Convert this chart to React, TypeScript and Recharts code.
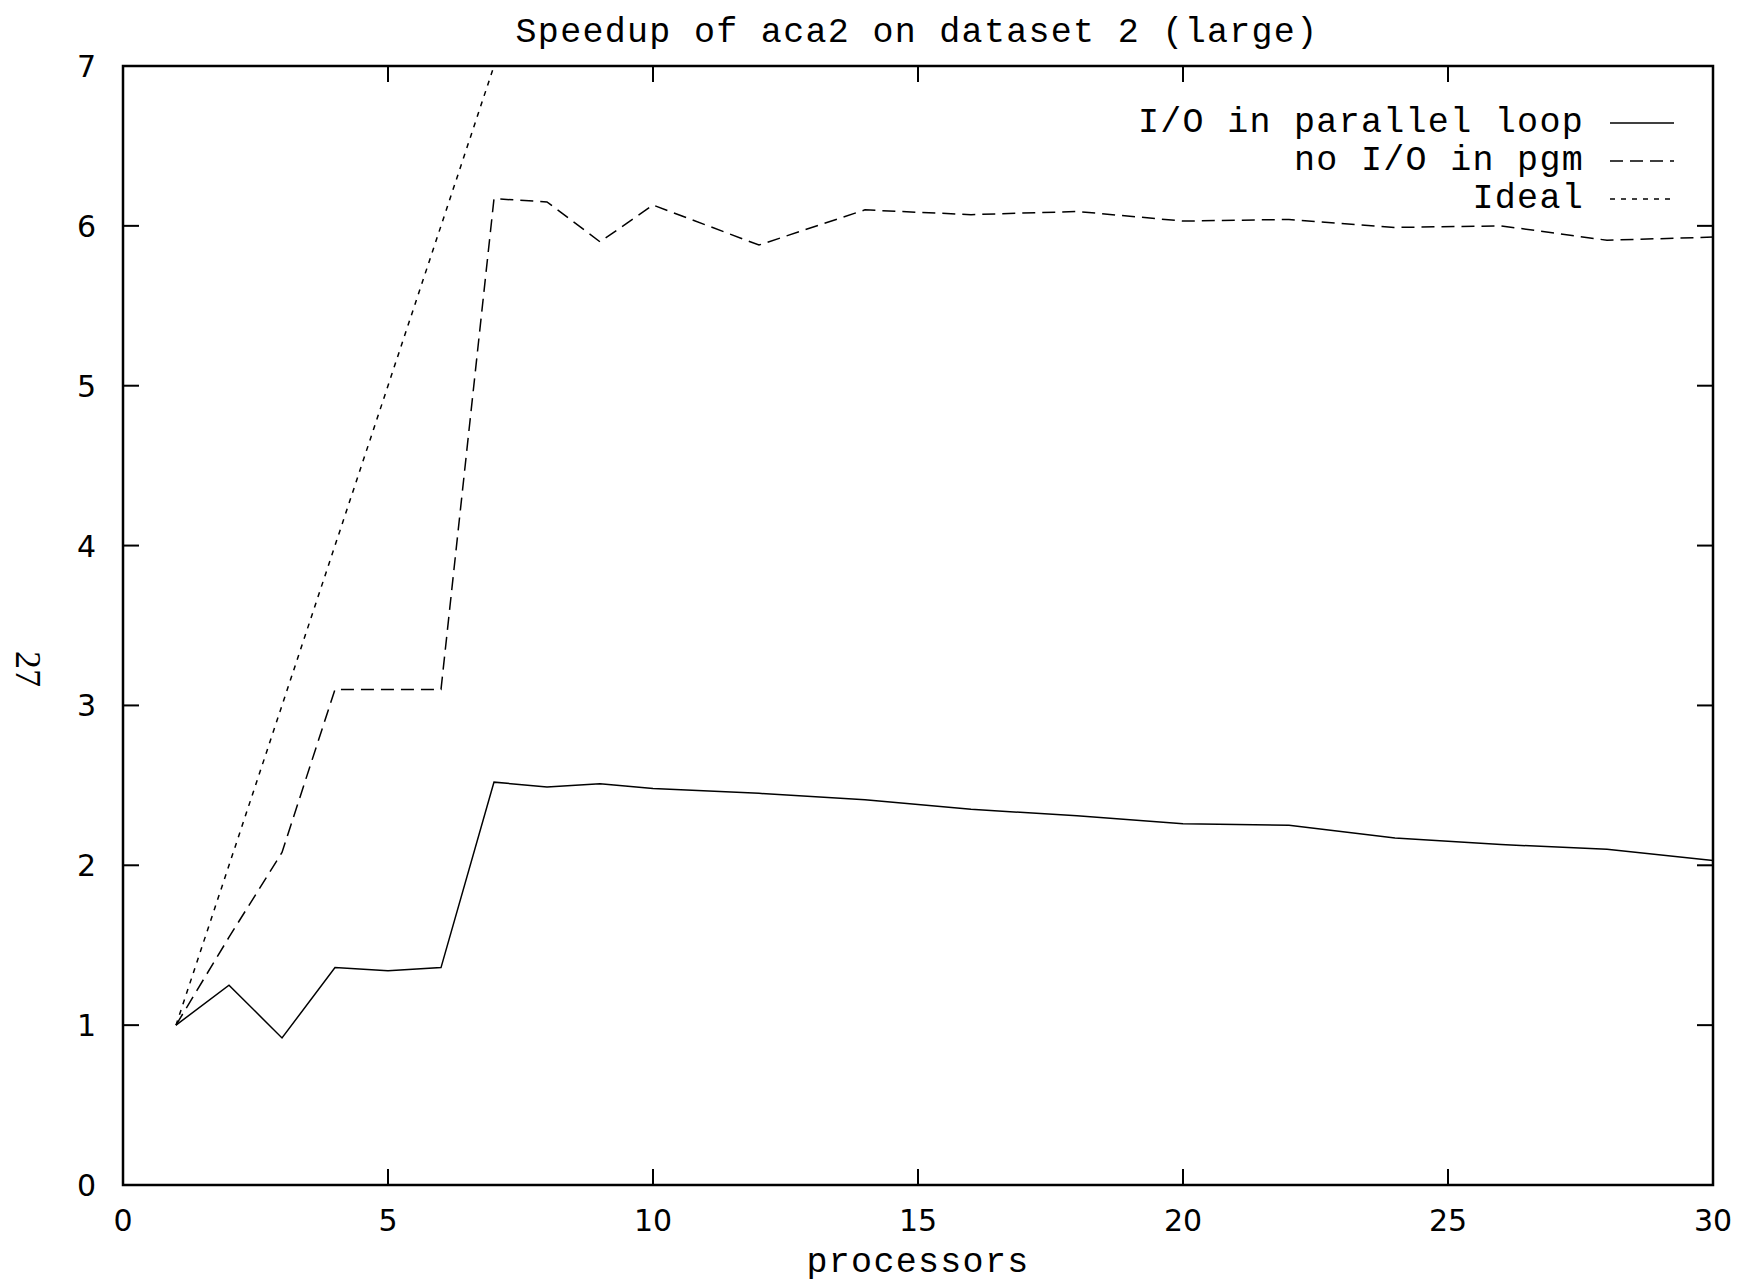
import React from 'react';
import { LineChart, Line, XAxis, YAxis, ReferenceArea, Legend, Label } from 'recharts';

const processors = [1, 2, 3, 4, 5, 6, 7, 8, 9, 10, 12, 14, 16, 18, 20, 22, 24, 26, 28, 30];
const ioParallelLoop = [1.0, 1.25, 0.92, 1.36, 1.34, 1.36, 2.52, 2.49, 2.51, 2.48, 2.45, 2.41, 2.35, 2.31, 2.26, 2.25, 2.17, 2.13, 2.10, 2.03];
const noIoInPgm = [1.0, 1.55, 2.08, 3.10, 3.10, 3.10, 6.17, 6.15, 5.90, 6.13, 5.88, 6.10, 6.07, 6.09, 6.03, 6.04, 5.99, 6.00, 5.91, 5.93];
const ideal = [1, 2, 3, 4, 5, 6, 7, null, null, null, null, null, null, null, null, null, null, null, null, null];

const xTicks = [0, 5, 10, 15, 20, 25, 30];
const yTicks = [0, 1, 2, 3, 4, 5, 6, 7];

const titleText = 'Speedup of aca2 on dataset 2 (large)';
const xLabelText = 'processors';
const yLabelText = '27';

const seriesNames = ['I/O in parallel loop', 'no I/O in pgm', 'Ideal'];

const data = processors.map((p, i) => ({
  x: p,
  io: ioParallelLoop[i],
  noio: noIoInPgm[i],
  ideal: ideal[i],
}));

const W = 1753;
const H = 1287;
const PLOT_TOP = 66;
const PLOT_RIGHT = 1713;
const PLOT_BOTTOM = 1185;
const Y_AXIS_W = 123;
const X_AXIS_H = 60;
const TICK_LEN = 16;

const MONO = "'Courier New', 'Liberation Mono', monospace";
const SANS = "'DejaVu Sans', sans-serif";
const SERIF = "'Liberation Serif', 'DejaVu Serif', serif";

const renderXTick = (props: any) => {
  const { x, y, payload } = props;
  return (
    <g>
      <line x1={x} y1={y} x2={x} y2={y - TICK_LEN} stroke="#000" strokeWidth={2} />
      <line x1={x} y1={PLOT_TOP} x2={x} y2={PLOT_TOP + TICK_LEN} stroke="#000" strokeWidth={2} />
      <text x={x} y={y + 46} textAnchor="middle" fontFamily={SANS} fontSize={30} fill="#000">
        {payload.value}
      </text>
    </g>
  );
};

const renderYTick = (props: any) => {
  const { x, y, payload } = props;
  return (
    <g>
      <line x1={x} y1={y} x2={x + TICK_LEN} y2={y} stroke="#000" strokeWidth={2} />
      <line x1={PLOT_RIGHT - TICK_LEN} y1={y} x2={PLOT_RIGHT} y2={y} stroke="#000" strokeWidth={2} />
      <text x={x - 27} y={y + 11} textAnchor="end" fontFamily={SANS} fontSize={30} fill="#000">
        {payload.value}
      </text>
    </g>
  );
};

const dashes = ['', '13 7', '5 6'];

const renderLegend = () => (
  <div style={{ width: 1674 }}>
    {seriesNames.map((name, i) => (
      <div
        key={name}
        style={{ display: 'flex', justifyContent: 'flex-end', alignItems: 'center', height: 38 }}
      >
        <span
          style={{ fontFamily: MONO, fontSize: 35, letterSpacing: 1.3, color: '#000', lineHeight: '38px', whiteSpace: 'pre' }}
        >
          {name}
        </span>
        <svg width={90} height={38} style={{ display: 'block' }}>
          <line x1={26} y1={19} x2={90} y2={19} stroke="#000" strokeWidth={1.5} strokeDasharray={dashes[i] || undefined} />
        </svg>
      </div>
    ))}
  </div>
);

export default function App() {
  return (
    <div style={{ position: 'absolute', left: 0, top: 0, width: W, height: H, background: '#fff' }}>
      <div
        style={{
          position: 'absolute',
          left: 0,
          top: 16,
          width: 1834,
          textAlign: 'center',
          fontFamily: MONO,
          fontSize: 35,
          letterSpacing: 1.3,
          lineHeight: '35px',
          color: '#000',
          whiteSpace: 'pre',
        }}
      >
        {titleText}
      </div>
      <div
        style={{
          position: 'absolute',
          left: 28,
          top: 669,
          transform: 'translate(-50%, -50%) rotate(90deg)',
          fontFamily: SERIF,
          fontSize: 36,
          lineHeight: '36px',
          color: '#000',
          whiteSpace: 'pre',
          zIndex: 2,
        }}
      >
        {yLabelText}
      </div>
      <LineChart
        width={W}
        height={H}
        data={data}
        margin={{ top: PLOT_TOP, right: W - PLOT_RIGHT, bottom: H - PLOT_BOTTOM - X_AXIS_H, left: 0 }}
      >
        <XAxis
          dataKey="x"
          type="number"
          domain={[0, 30]}
          ticks={xTicks}
          interval={0}
          height={X_AXIS_H}
          axisLine={false}
          tickLine={false}
          tickSize={0}
          tickMargin={0}
          tick={renderXTick}
        >
          <Label
            content={(p: any) => {
              const vb = p.viewBox || { x: Y_AXIS_W, y: PLOT_BOTTOM, width: PLOT_RIGHT - Y_AXIS_W };
              return (
                <text x={vb.x + vb.width / 2} y={vb.y + 87} textAnchor="middle" fontFamily={MONO} fontSize={35} letterSpacing={1.3} fill="#000">
                  {xLabelText}
                </text>
              );
            }}
          />
        </XAxis>
        <YAxis
          type="number"
          domain={[0, 7]}
          ticks={yTicks}
          interval={0}
          width={Y_AXIS_W}
          axisLine={false}
          tickLine={false}
          tickSize={0}
          tickMargin={0}
          tick={renderYTick}
          allowDataOverflow
        />
        <ReferenceArea x1={0} x2={30} y1={0} y2={7} fill="none" fillOpacity={0} stroke="#000" strokeWidth={2.5} />
        <Legend
          content={renderLegend}
          layout="horizontal"
          align="center"
          verticalAlign="middle"
          wrapperStyle={{ position: 'absolute', left: 0, top: 104, width: 1674, height: 114 }}
        />
        <Line dataKey="io" name={seriesNames[0]} type="linear" stroke="#000" strokeWidth={1.5} dot={false} isAnimationActive={false} />
        <Line dataKey="noio" name={seriesNames[1]} type="linear" stroke="#000" strokeWidth={1.5} strokeDasharray="13 7" dot={false} isAnimationActive={false} />
        <Line dataKey="ideal" name={seriesNames[2]} type="linear" stroke="#000" strokeWidth={1.5} strokeDasharray="5 6" dot={false} isAnimationActive={false} />
      </LineChart>
    </div>
  );
}
